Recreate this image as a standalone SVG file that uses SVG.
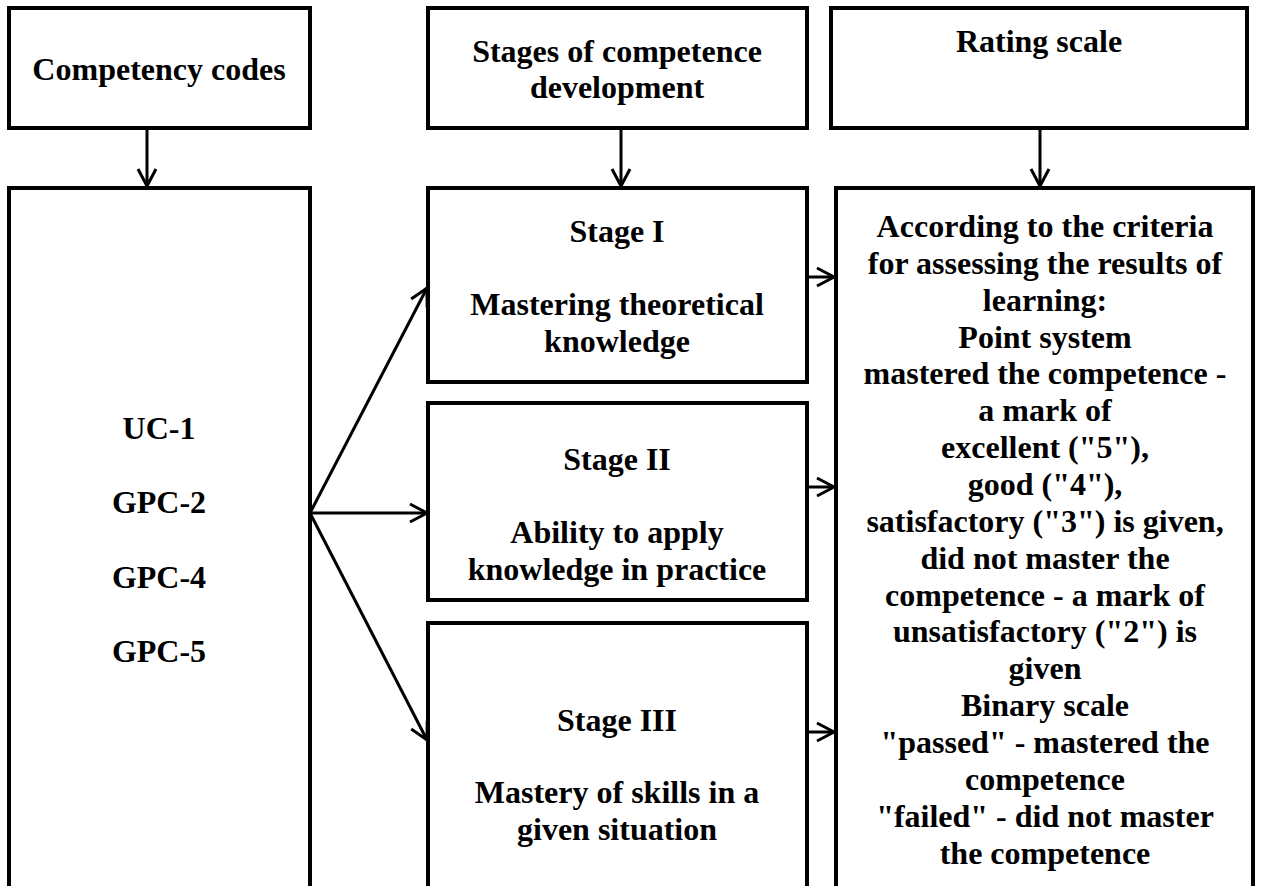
<svg xmlns="http://www.w3.org/2000/svg" width="1262" height="886" viewBox="0 0 1262 886">
<style>
.box{fill:#fff;stroke:#000;stroke-width:4}
.t{font-family:"Liberation Serif","Times New Roman",serif;font-weight:bold;font-size:32px;text-anchor:middle;fill:#000}
.c{stroke:#000;stroke-width:3;fill:none}
</style>
<defs>
<marker id="ah" markerUnits="userSpaceOnUse" markerWidth="24" markerHeight="24" refX="17" refY="9" orient="auto" overflow="visible">
<path d="M0,0 L17,9 L0,18" fill="none" stroke="#000" stroke-width="3"/>
</marker>
</defs>
<rect width="1262" height="886" fill="#fff"/>
<g id="competency-codes-header">
<rect class="box" x="9" y="8" width="301" height="120"/>
<text class="t" x="159" y="80">Competency codes</text>
</g>
<g id="stages-header">
<rect class="box" x="428" y="8" width="379" height="120"/>
<text class="t" x="617" y="62">Stages of competence</text>
<text class="t" x="617" y="98">development</text>
</g>
<g id="rating-header">
<rect class="box" x="831" y="8" width="416" height="120"/>
<text class="t" x="1039" y="52">Rating scale</text>
</g>
<g id="codes">
<rect class="box" x="9" y="188" width="301" height="720"/>
<text class="t" x="159" y="439">UC-1</text>
<text class="t" x="159" y="513">GPC-2</text>
<text class="t" x="159" y="588">GPC-4</text>
<text class="t" x="159" y="662">GPC-5</text>
</g>
<g id="stage1">
<rect class="box" x="428" y="188" width="379" height="194"/>
<text class="t" x="617" y="242">Stage I</text>
<text class="t" x="617" y="315">Mastering theoretical</text>
<text class="t" x="617" y="352">knowledge</text>
</g>
<g id="stage2">
<rect class="box" x="428" y="403" width="379" height="197"/>
<text class="t" x="617" y="470">Stage II</text>
<text class="t" x="617" y="543">Ability to apply</text>
<text class="t" x="617" y="580">knowledge in practice</text>
</g>
<g id="stage3">
<rect class="box" x="428" y="623" width="379" height="285"/>
<text class="t" x="617" y="731">Stage III</text>
<text class="t" x="617" y="803">Mastery of skills in a</text>
<text class="t" x="617" y="840">given situation</text>
</g>
<g id="rating">
<rect class="box" x="836" y="188" width="417" height="720"/>
<text class="t" x="1045" y="237">According to the criteria</text>
<text class="t" x="1045" y="273.9">for assessing the results of</text>
<text class="t" x="1045" y="310.7">learning:</text>
<text class="t" x="1045" y="347.6">Point system</text>
<text class="t" x="1045" y="384.4">mastered the competence -</text>
<text class="t" x="1045" y="421.3">a mark of</text>
<text class="t" x="1045" y="458.1">excellent ("5"),</text>
<text class="t" x="1045" y="495">good ("4"),</text>
<text class="t" x="1045" y="531.8">satisfactory ("3") is given,</text>
<text class="t" x="1045" y="568.7">did not master the</text>
<text class="t" x="1045" y="605.5">competence - a mark of</text>
<text class="t" x="1045" y="642.4">unsatisfactory ("2") is</text>
<text class="t" x="1045" y="679.2">given</text>
<text class="t" x="1045" y="716.1">Binary scale</text>
<text class="t" x="1045" y="752.9">"passed" - mastered the</text>
<text class="t" x="1045" y="789.8">competence</text>
<text class="t" x="1045" y="826.6">"failed" - did not master</text>
<text class="t" x="1045" y="863.5">the competence</text>
</g>
<g id="connectors">
<line class="c" x1="147" y1="130" x2="147" y2="186" marker-end="url(#ah)"/>
<line class="c" x1="621" y1="130" x2="621" y2="186" marker-end="url(#ah)"/>
<line class="c" x1="1040" y1="130" x2="1040" y2="186" marker-end="url(#ah)"/>
<line class="c" x1="310" y1="513" x2="427" y2="288" marker-end="url(#ah)"/>
<line class="c" x1="310" y1="513" x2="427" y2="513" marker-end="url(#ah)"/>
<line class="c" x1="310" y1="513" x2="427" y2="740" marker-end="url(#ah)"/>
<line class="c" x1="809" y1="277" x2="834" y2="277" marker-end="url(#ah)"/>
<line class="c" x1="809" y1="487" x2="834" y2="487" marker-end="url(#ah)"/>
<line class="c" x1="809" y1="732" x2="834" y2="732" marker-end="url(#ah)"/>
</g>
</svg>
